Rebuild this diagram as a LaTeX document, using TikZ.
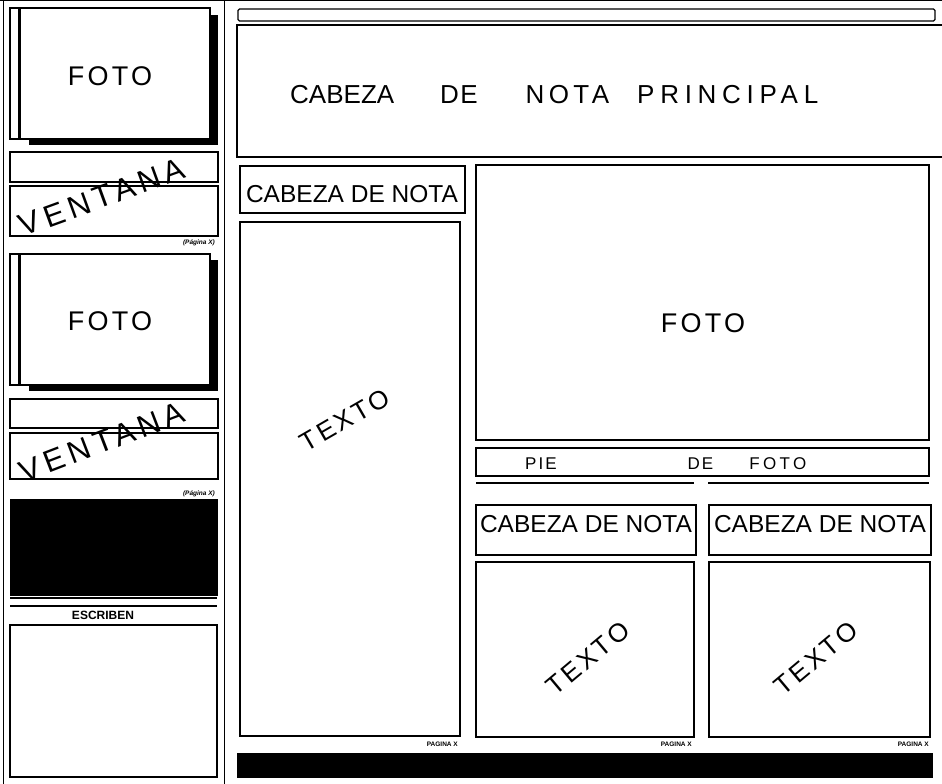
\documentclass[tikz,border=0pt]{standalone}
\usepackage{fontspec}
\setmainfont{Liberation Sans}
\newfontfamily\spaced[LetterSpace=12]{Liberation Sans}
\newfontfamily\vspaced[LetterSpace=16]{Liberation Sans}
\usetikzlibrary{fit}
\begin{document}
\begin{tikzpicture}[x=1pt,y=-1pt,
  frame/.style={draw=black, line width=1.1pt, inner sep=0pt, fill=white},
  solid box/.style={fill=black, draw=black, inner sep=0pt},
  big/.style={font=\spaced\fontsize{27}{27}\selectfont, inner sep=0pt},
  head/.style={font=\fontsize{24.5}{24.5}\selectfont, inner sep=0pt},
  rot/.style={font=\spaced\fontsize{26}{26}\selectfont, inner sep=0pt},
  vent/.style={font=\vspaced\fontsize{31}{31}\selectfont, inner sep=0pt},
  tiny/.style={font=\bfseries\itshape\fontsize{6.5}{6.5}\selectfont, inner sep=0pt},
  pag/.style={font=\bfseries\fontsize{6.5}{6.5}\selectfont, inner sep=0pt}]
\useasboundingbox[fill=white] (0,0) rectangle (942,784);

% page rules
\draw[line width=1pt] (0,1) -- (942,1);
\draw[line width=1pt] (3,0) -- (3,784);
\draw[line width=1pt] (224,0) -- (224,784);

% ---- left column: first photo
\node[solid box, fit={(29,15)(217,144)}] (sh1) {};
\node[frame, fit={(10,8)(20,139)}] (bar1) {};
\node[frame, fit={(20,8)(210,139)}] (foto1) {};
\draw[line width=2.2pt] (foto1.north west) -- (foto1.south west);
\node[big] (foto1t) at (110,76) {FOTO};
\node[frame, fit={(10,152)(218,182)}] (strip1) {};
\node[frame, fit={(10,186)(218,236)}] (vent1) {};
\node[vent, rotate=20] (vent1t) at (102,197) {VENTANA};
\node[tiny, anchor=base east] (pag1) at (215,244) {(Página X)};

% ---- left column: second photo
\node[solid box, fit={(29,260)(217,390)}] (sh2) {};
\node[frame, fit={(10,254)(20,385)}] (bar2) {};
\node[frame, fit={(20,254)(210,385)}] (foto2) {};
\draw[line width=2.2pt] (foto2.north west) -- (foto2.south west);
\node[big] (foto2t) at (110,321) {FOTO};
\node[frame, fit={(10,399)(218,428)}] (strip2) {};
\node[frame, fit={(10,433)(218,479)}] (vent2) {};
\node[vent, rotate=21] (vent2t) at (102,442) {VENTANA};
\node[tiny, anchor=base east] (pag2) at (215,495) {(Página X)};

% ---- left column: black box, ESCRIBEN
\node[solid box, fit={(10,499)(217,595)}] (black1) {};
\draw[line width=1.8pt] (10,598) -- (217,598);
\draw[line width=2.4pt] (10,606) -- (217,606);
\node[font=\bfseries\fontsize{12}{12}\selectfont, inner sep=0pt, anchor=base] (escr) at (103,619) {ESCRIBEN};
\node[frame, fit={(10,625)(217,777)}] (escrbox) {};

% ---- main column: header
\node[frame, rounded corners=1.5pt, fit={(238,9)(935,21)}] (topstrip) {};
\draw[line width=1.1pt] (946,25) -| (237,157) -- (946,157);
\coordinate (headc) at (290,103);
\node[font=\fontsize{26}{26}\selectfont, inner sep=0pt, anchor=base west] (headt) at (headc)
  {CABEZA\hspace{46pt}{\addfontfeature{LetterSpace=5}DE}\hspace{48pt}{\addfontfeature{LetterSpace=17}NOTA}\hspace{28pt}{\addfontfeature{LetterSpace=22}PRINCIPAL}};

% ---- left story
\node[frame, fit={(240,166)(465,213)}] (cn1) {};
\node[head, anchor=base] (cn1t) at (352,202) {CABEZA DE NOTA};
\node[frame, fit={(240,222)(460,736)}] (tx1) {};
\node[rot, rotate=30] (tx1t) at (345,420) {TEXTO};
\node[pag, anchor=base east] (pg1) at (458,746) {PAGINA X};

% ---- photo and caption
\node[frame, fit={(476,165)(929,440)}] (fotom) {};
\node[big] (fotomt) at (703,323) {FOTO};
\node[frame, fit={(476,448)(929,476)}] (pie) {};
\node[font=\spaced\fontsize{17}{17}\selectfont, inner sep=0pt, anchor=base west] (piet) at (525,469)
  {PIE\hspace{131pt}DE\hspace{36pt}{\addfontfeature{LetterSpace=20}FOTO}};
\draw[line width=1.1pt] (476,483) -- (694,483);
\draw[line width=1.1pt] (708,483) -- (929,483);

% ---- two lower stories
\node[frame, fit={(476,505)(696,555)}] (cn2) {};
\node[head, anchor=base] (cn2t) at (586,532) {CABEZA DE NOTA};
\node[frame, fit={(709,505)(931,555)}] (cn3) {};
\node[head, anchor=base] (cn3t) at (820,532) {CABEZA DE NOTA};
\node[frame, fit={(476,562)(694,737)}] (tx2) {};
\node[rot, rotate=40] (tx2t) at (588,658) {TEXTO};
\node[frame, fit={(709,562)(930,737)}] (tx3) {};
\node[rot, rotate=40] (tx3t) at (816,658) {TEXTO};
\node[pag, anchor=base east] (pg2) at (692,746) {PAGINA X};
\node[pag, anchor=base east] (pg3) at (929,746) {PAGINA X};

% ---- bottom banner
\node[solid box, fit={(237,753)(932,777)}] (banner) {};
\end{tikzpicture}
\end{document}
